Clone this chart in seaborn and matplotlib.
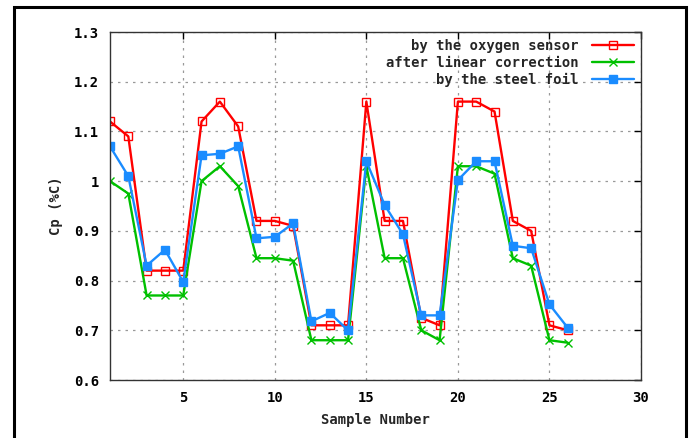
import pandas as pd
import matplotlib
matplotlib.use("Agg")
import matplotlib.pyplot as plt
import seaborn as sns
from matplotlib.patches import Rectangle

# Valeurs
samples = list(range(1, 27))
oxygen_sensor = [1.12, 1.09, 0.82, 0.82, 0.82, 1.12, 1.16, 1.11, 0.92, 0.92,
                 0.91, 0.71, 0.71, 0.71, 1.16, 0.92, 0.92, 0.725, 0.71, 1.16,
                 1.16, 1.14, 0.92, 0.90, 0.71, 0.70]
linear_correction = [1.00, 0.975, 0.77, 0.77, 0.77, 1.00, 1.03, 0.99, 0.845, 0.845,
                     0.84, 0.68, 0.68, 0.68, 1.03, 0.845, 0.845, 0.70, 0.68, 1.03,
                     1.03, 1.015, 0.845, 0.83, 0.68, 0.675]
steel_foil = [1.07, 1.01, 0.83, 0.862, 0.797, 1.052, 1.055, 1.07, 0.885, 0.888,
              0.915, 0.718, 0.735, 0.70, 1.04, 0.952, 0.893, 0.73, 0.73, 1.002,
              1.04, 1.04, 0.87, 0.865, 0.752, 0.705]
series_labels = ["by the oxygen sensor", "after linear correction", "by the steel foil"]
x_ticks = [5, 10, 15, 20, 25, 30]
y_ticks = [0.6, 0.7, 0.8, 0.9, 1.0, 1.1, 1.2, 1.3]

sns.set_style("white")
plt.rcParams['font.family'] = ['DejaVu Sans Mono']
plt.rcParams['font.weight'] = 'bold'

fig = plt.figure(figsize=(6.92, 4.38), dpi=100)
ax = fig.add_axes([110 / 692, 1 - 380 / 438, (641 - 110) / 692, (380 - 32) / 438])

configs = [
    (oxygen_sensor, series_labels[0], '#ff0000', 's', 'none', 5.5),
    (linear_correction, series_labels[1], '#00c000', 'x', '#00c000', 5.5),
    (steel_foil, series_labels[2], '#1a8cff', 's', '#1a8cff', 6),
]
for values, label, color, marker, mfc, ms in configs:
    df = pd.DataFrame({'sample': samples, 'cp': values})
    sns.lineplot(data=df, x='sample', y='cp', ax=ax, color=color, lw=1.7,
                 marker=marker, markersize=ms, markerfacecolor=mfc,
                 markeredgecolor=color, markeredgewidth=1.0, label=label)

ax.set_xlim(1, 30)
ax.set_ylim(0.6, 1.3)
ax.set_xticks(x_ticks)
ax.set_yticks(y_ticks)
ax.set_yticklabels([f"{v:g}" for v in y_ticks])
ax.tick_params(direction='in', length=5, width=1, top=True, right=True,
               labelsize=10, pad=8, colors='black')
for lab in ax.get_xticklabels() + ax.get_yticklabels():
    lab.set_fontweight('bold')
ax.grid(True, linestyle=(0, (2, 4)), color='#999999', lw=0.9)
for s in ax.spines.values():
    s.set_color('#333333')
    s.set_linewidth(1.0)

ax.set_xlabel('Sample Number', fontsize=10, fontweight='bold', labelpad=6)
ax.set_ylabel('Cp (%C)', fontsize=10, fontweight='bold', labelpad=8)

leg = ax.legend(loc='upper right', frameon=False, markerfirst=False,
                fontsize=10, handlelength=3.0, labelspacing=0.2,
                handletextpad=1.0, borderaxespad=0.1)
for col in leg._legend_handle_box.get_children():
    col.align = 'right'

# cadre noir autour de la figure
fig.add_artist(Rectangle((14 / 692, -0.1), (686 - 14) / 692, 1.1 - 7 / 438,
                         transform=fig.transFigure, fill=False, lw=2.2,
                         edgecolor='black'))

fig.savefig('out.png', dpi=100)
